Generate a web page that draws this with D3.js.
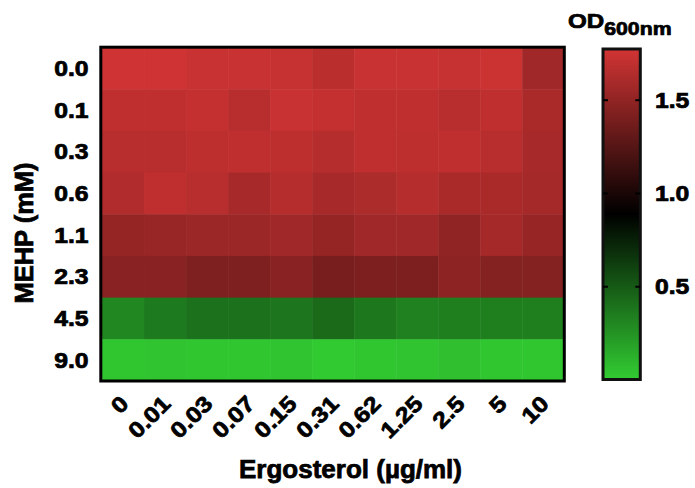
<!DOCTYPE html>
<html>
<head>
<meta charset="utf-8">
<script src="https://cdn.jsdelivr.net/npm/d3@7"></script>
<style>
  html, body { margin: 0; padding: 0; background: #fff; }
  svg text { font-family: "Liberation Sans", Arial, Helvetica, sans-serif; font-weight: bold; fill: #000; stroke: #000; stroke-width: 0.75px; }
</style>
</head>
<body>
<svg id="chart" width="695" height="488"></svg>
<script>
// Ergosterol concentrations (µg/ml), columns of the heat map
const ergosterol = ["0", "0.01", "0.03", "0.07", "0.15", "0.31", "0.62", "1.25", "2.5", "5", "10"];
// MEHP concentrations (mM), rows of the heat map
const mehp = ["0.0", "0.1", "0.3", "0.6", "1.1", "2.3", "4.5", "9.0"];

// OD600nm per MEHP row, one value per ergosterol column
const od_0_0 = [1.77, 1.77, 1.74, 1.74, 1.73, 1.68, 1.74, 1.74, 1.73, 1.75, 1.57];
const od_0_1 = [1.70, 1.70, 1.72, 1.67, 1.74, 1.72, 1.70, 1.70, 1.67, 1.70, 1.61];
const od_0_3 = [1.67, 1.67, 1.69, 1.70, 1.69, 1.66, 1.70, 1.69, 1.70, 1.67, 1.60];
const od_0_6 = [1.64, 1.70, 1.67, 1.60, 1.66, 1.60, 1.62, 1.66, 1.61, 1.61, 1.59];
const od_1_1 = [1.52, 1.54, 1.55, 1.55, 1.57, 1.52, 1.57, 1.57, 1.50, 1.59, 1.53];
const od_2_3 = [1.47, 1.47, 1.43, 1.43, 1.47, 1.40, 1.42, 1.42, 1.49, 1.45, 1.45];
const od_4_5 = [0.30, 0.36, 0.40, 0.40, 0.38, 0.43, 0.37, 0.33, 0.34, 0.34, 0.34];
const od_9_0 = [0.03, 0.04, 0.03, 0.03, 0.04, 0.01, 0.03, 0.04, 0.06, 0.03, 0.03];
const odRows = [od_0_0, od_0_1, od_0_3, od_0_6, od_1_1, od_2_3, od_4_5, od_9_0];

// Colour bar range and ticks
const odMin = 0;
const odMax = 1.78;
const odTicks = [0.5, 1.0, 1.5];

const svg = d3.select("#chart");
const STRETCH = 1.15; // wide lettering of the tick labels

const x = d3.scaleBand().domain(ergosterol).range([102, 564.3]);
const y = d3.scaleBand().domain(mehp).range([47.5, 381]);
const color = d3.scaleLinear()
  .domain([odMin, (odMin + odMax) / 2, odMax])
  .range(["rgb(50,205,50)", "rgb(0,0,0)", "rgb(210,52,52)"])
  .clamp(true);

// helper: bold label, optionally widened along its baseline
function label(parent, text, tx, ty, opts = {}) {
  const sx = opts.stretch == null ? STRETCH : opts.stretch;
  const g = parent.append("g")
    .attr("transform", `translate(${tx},${ty}) rotate(${opts.rotate || 0}) scale(${sx},1)`);
  return g.append("text")
    .attr("text-anchor", opts.anchor || "start")
    .style("font-size", (opts.size || 21.5) + "px")
    .text(text);
}

// heat map cells
const cells = [];
odRows.forEach((row, i) => row.forEach((v, j) => cells.push({ r: mehp[i], c: ergosterol[j], v })));
svg.append("g").selectAll("rect").data(cells).join("rect")
  .attr("x", d => x(d.c))
  .attr("y", d => y(d.r))
  .attr("width", x.bandwidth() + 0.5)
  .attr("height", y.bandwidth() + 0.5)
  .attr("fill", d => color(d.v));

// frame
svg.append("rect")
  .attr("x", 100.8).attr("y", 47.2)
  .attr("width", 564.3 - 100.8).attr("height", 381 - 47.2)
  .attr("fill", "none").attr("stroke", "#000").attr("stroke-width", 3);

// row labels
const yLab = svg.append("g");
mehp.forEach(m => label(yLab, m, 88.5, y(m) + y.bandwidth() / 2 + 7.5, { anchor: "end" }));

// column labels, rotated
const xLab = svg.append("g");
ergosterol.forEach(e => label(xLab, e, x(e) + x.bandwidth() / 2 + 7, 405, { anchor: "end", rotate: -45, size: 22 }));

// axis titles
label(svg, "MEHP (mM)", 33, 233, { anchor: "middle", rotate: -90, size: 25.5, stretch: 1 });
label(svg, "Ergosterol (µg/ml)", 350.5, 478, { anchor: "middle", size: 26, stretch: 1 });

// colour bar
const cbY = d3.scaleLinear().domain([odMin, odMax]).range([380, 48]);
const defs = svg.append("defs");
const grad = defs.append("linearGradient").attr("id", "odGrad")
  .attr("x1", 0).attr("y1", 1).attr("x2", 0).attr("y2", 0);
d3.range(0, 1.0001, 0.05).forEach(t => {
  grad.append("stop").attr("offset", t).attr("stop-color", color(odMin + t * (odMax - odMin)));
});
const cbX0 = 603, cbX1 = 640.3;
svg.append("rect")
  .attr("x", cbX0).attr("y", cbY(odMax) + 1)
  .attr("width", cbX1 - cbX0).attr("height", cbY(odMin) - cbY(odMax) - 1.5)
  .attr("fill", "url(#odGrad)")
  .attr("stroke", "#111").attr("stroke-width", 3);

const cbTicks = svg.append("g");
odTicks.forEach(t => {
  cbTicks.append("line").attr("x1", cbX0).attr("x2", cbX0 + 5)
    .attr("y1", cbY(t)).attr("y2", cbY(t)).attr("stroke", "#000").attr("stroke-width", 2);
  cbTicks.append("line").attr("x1", cbX1 - 5).attr("x2", cbX1)
    .attr("y1", cbY(t)).attr("y2", cbY(t)).attr("stroke", "#000").attr("stroke-width", 2);
  label(cbTicks, d3.format(".1f")(t), 655, cbY(t) + 7.5);
});

// colour bar title
const title = label(svg, "OD", 568, 28, { size: 21 });
title.append("tspan").attr("dy", 7).style("font-size", "18.5px").text("600nm");
</script>
</body>
</html>
